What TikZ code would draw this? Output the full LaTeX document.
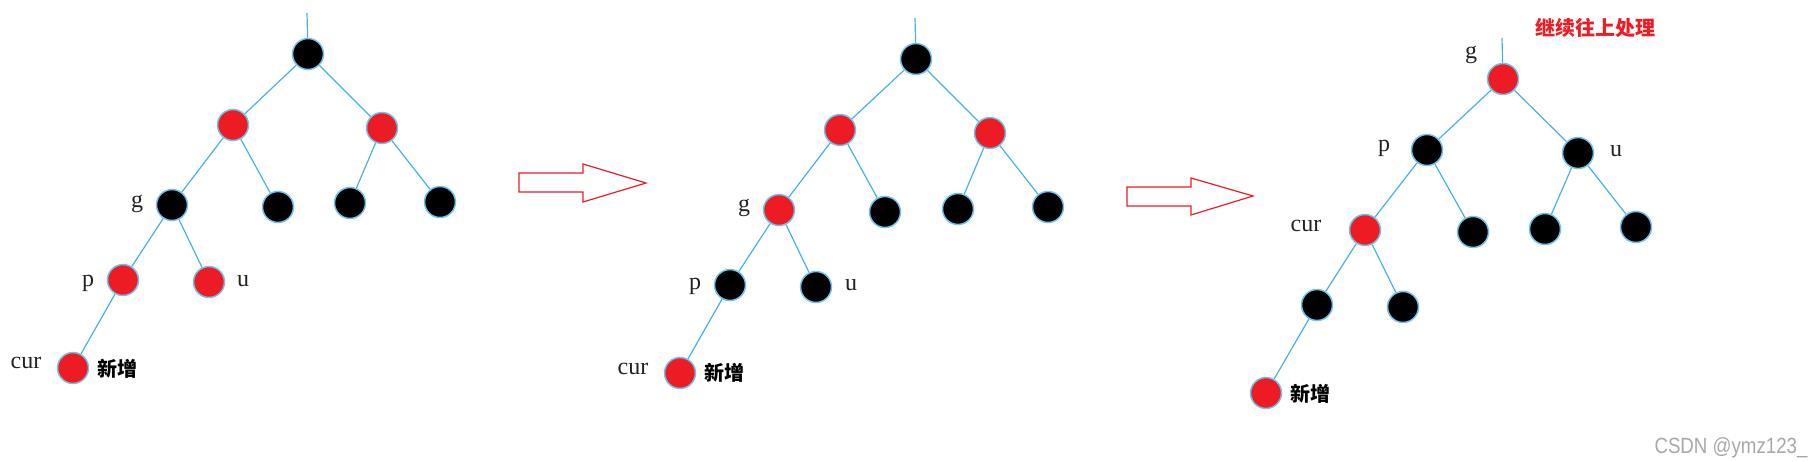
\documentclass[tikz,border=0pt]{standalone}
\usepackage{fontspec}
\setmainfont{Liberation Serif}
\newfontfamily\cjk{Noto Sans CJK SC}
\newfontfamily\wmfont{Liberation Sans}
\definecolor{nred}{HTML}{ED1C24}
\definecolor{nblue}{HTML}{6CC4EE}
\definecolor{eblue}{HTML}{45B2E6}
\definecolor{labcol}{HTML}{222222}
\definecolor{wmgrey}{HTML}{A8A8A8}
\tikzset{
  rb/.style={circle, fill=nred, draw=nblue, line width=1.5pt, minimum size=31pt, inner sep=0pt},
  bb/.style={circle, fill=black, draw=nblue, line width=1.5pt, minimum size=31pt, inner sep=0pt},
  edge/.style={draw=eblue, line width=1.2pt},
  lbl/.style={font=\fontsize{24}{24}\selectfont, anchor=base, inner sep=0pt, text=labcol},
  cjklbl/.style={font=\cjk\bfseries\fontsize{20}{20}\selectfont, inner sep=0pt, text=black},
  bigarrow/.style={draw=nred, line width=1.2pt, fill=white}
}
\begin{document}
\begin{tikzpicture}[x=1pt,y=-1pt]
\useasboundingbox (0,0) rectangle (1819,462);
% ---------- Tree 1 ----------
\coordinate (t1top) at (307,13);
\node[bb] (a1) at (308,54) {};
\node[rb] (a2) at (233,125) {};
\node[rb] (a3) at (382,128) {};
\node[bb] (a4) at (172,205) {};
\node[bb] (a5) at (278,207) {};
\node[bb] (a6) at (350,203) {};
\node[bb] (a7) at (440,202) {};
\node[rb] (a8) at (123,280) {};
\node[rb] (a9) at (209,282) {};
\node[rb] (a10) at (73,368) {};
\draw[edge] (t1top) -- (a1);
\draw[edge] (a1) -- (a2);
\draw[edge] (a1) -- (a3);
\draw[edge] (a2) -- (a4);
\draw[edge] (a2) -- (a5);
\draw[edge] (a3) -- (a6);
\draw[edge] (a3) -- (a7);
\draw[edge] (a4) -- (a8);
\draw[edge] (a4) -- (a9);
\draw[edge] (a8) -- (a10);
\node[lbl] (a4l) at (137,208) {g};
\node[lbl] (a8l) at (88,287) {p};
\node[lbl] (a9l) at (243,286) {u};
\node[lbl] (a10l) at (26,368) {cur};
\node[cjklbl] (a10n) at (117,369) {新增};
% ---------- Arrow 1 ----------
\draw[bigarrow] (519,173) -- (583,173) -- (583,164) -- (646,183) -- (583,202) -- (583,192) -- (519,192) -- cycle;
% ---------- Tree 2 ----------
\coordinate (t2top) at (915,18);
\node[bb] (b1) at (916,59) {};
\node[rb] (b2) at (840,130) {};
\node[rb] (b3) at (990,133) {};
\node[rb] (b4) at (779,210) {};
\node[bb] (b5) at (885,212) {};
\node[bb] (b6) at (958,209) {};
\node[bb] (b7) at (1048,207) {};
\node[bb] (b8) at (730,285) {};
\node[bb] (b9) at (816,287) {};
\node[rb] (b10) at (680,373) {};
\draw[edge] (t2top) -- (b1);
\draw[edge] (b1) -- (b2);
\draw[edge] (b1) -- (b3);
\draw[edge] (b2) -- (b4);
\draw[edge] (b2) -- (b5);
\draw[edge] (b3) -- (b6);
\draw[edge] (b3) -- (b7);
\draw[edge] (b4) -- (b8);
\draw[edge] (b4) -- (b9);
\draw[edge] (b8) -- (b10);
\node[lbl] (b4l) at (744,212) {g};
\node[lbl] (b8l) at (695,289) {p};
\node[lbl] (b9l) at (851,290) {u};
\node[lbl] (b10l) at (633,374) {cur};
\node[cjklbl] (b10n) at (724,373) {新增};
% ---------- Arrow 2 ----------
\draw[bigarrow] (1127,187) -- (1191,187) -- (1191,178) -- (1253,196) -- (1191,215) -- (1191,206) -- (1127,206) -- cycle;
% ---------- Tree 3 ----------
\coordinate (t3top) at (1502,38);
\node[rb] (c1) at (1503,79) {};
\node[bb] (c2) at (1427,150) {};
\node[bb] (c3) at (1578,153) {};
\node[rb] (c4) at (1365,230) {};
\node[bb] (c5) at (1473,232) {};
\node[bb] (c6) at (1545,229) {};
\node[bb] (c7) at (1636,227) {};
\node[bb] (c8) at (1317,305) {};
\node[bb] (c9) at (1403,307) {};
\node[rb] (c10) at (1266,393) {};
\draw[edge] (t3top) -- (c1);
\draw[edge] (c1) -- (c2);
\draw[edge] (c1) -- (c3);
\draw[edge] (c2) -- (c4);
\draw[edge] (c2) -- (c5);
\draw[edge] (c3) -- (c6);
\draw[edge] (c3) -- (c7);
\draw[edge] (c4) -- (c8);
\draw[edge] (c4) -- (c9);
\draw[edge] (c8) -- (c10);
\node[lbl] (c1l) at (1471,59) {g};
\node[lbl] (c2l) at (1384,152) {p};
\node[lbl] (c3l) at (1616,157) {u};
\node[lbl] (c4l) at (1306,232) {cur};
\node[cjklbl] (c10n) at (1310,394) {新增};
\node[cjklbl, text=nred] (note) at (1595,28) {继续往上处理};
% ---------- Watermark ----------
\node[font=\wmfont\fontsize{22}{22}\selectfont, text=wmgrey, anchor=base, inner sep=0pt, xscale=0.85, transform shape] (wm) at (1731,453) {CSDN @ymz123\_};
\end{tikzpicture}
\end{document}
